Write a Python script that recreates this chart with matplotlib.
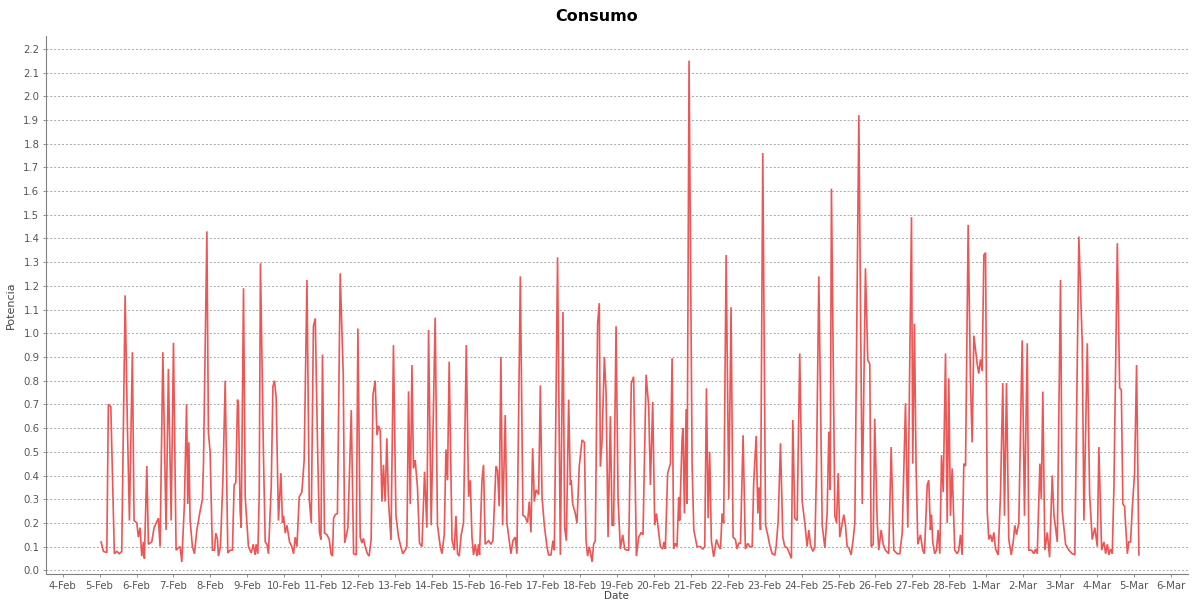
import pandas as pd
import matplotlib
matplotlib.use("Agg")
import matplotlib.pyplot as plt
import matplotlib.dates as mdates
from matplotlib.ticker import FuncFormatter, MultipleLocator

START = pd.Timestamp("2017-02-05 00:00")

# hours after 5-Feb 00:00 and the power reading at that moment
hours = [
    1.0, 2.5, 4.7, 5.7, 7.3, 9.6, 11.2, 12.9, 14.4, 16.6, 18.1, 19.4, 21.3, 22.4,
    24.2, 25.2, 26.3, 27.4, 28.5, 29.1, 30.7, 31.7, 33.9, 35.4, 38.2, 39.3, 41.1,
    43.2, 44.7, 46.5, 48.0, 49.7, 51.2, 52.3, 53.4, 55.1, 56.5, 57.3, 58.0, 58.8,
    60.3, 61.6, 63.2, 65.3, 66.8, 67.5, 69.7, 70.7, 71.8, 73.3, 74.6, 75.5, 76.6,
    77.2, 78.5, 80.1, 81.6, 83.3, 84.8, 86.3, 87.4, 88.5, 89.6, 90.2, 91.3, 92.0,
    93.5, 94.6, 96.7, 98.5, 99.8, 101.1, 101.7, 102.8, 103.7, 104.5, 106.5, 107.6,
    108.7, 109.7, 111.5, 112.6, 113.6, 114.7, 116.2, 117.8, 118.8, 119.5, 120.6,
    121.7, 123.4, 124.9, 126.0, 127.1, 128.2, 129.7, 131.4, 132.9, 134.7, 136.2,
    137.5, 138.9, 140.1, 141.6, 142.8, 143.8, 144.8, 146.1, 147.7, 149.2, 150.3,
    151.3, 152.0, 153.1, 154.5, 156.3, 158.3, 159.2, 161.3, 163.5, 165.0, 166.7,
    167.8, 169.3, 170.4, 171.4, 172.5, 174.0, 175.1, 176.4, 177.6, 179.0, 180.2,
    181.2, 182.3, 183.4, 184.4, 185.5, 186.6, 187.7, 189.3, 190.9, 192.5, 194.2,
    195.7, 197.0, 198.5, 199.6, 200.7, 201.8, 202.9, 203.9, 205.0, 206.5, 207.8,
    209.4, 211.1, 212.6, 213.7, 215.4, 218.0, 219.5, 221.3, 222.4, 223.9, 225.0,
    226.0, 227.1, 228.9, 230.4, 231.5, 232.5, 233.6, 234.9, 236.4, 238.2, 239.7,
    240.8, 241.9, 242.9, 244.0, 245.1, 246.2, 246.8, 248.4, 249.4, 250.5, 252.7,
    254.2, 255.5, 257.5, 258.5, 259.6, 260.7, 261.8, 263.5, 264.6, 266.1, 267.2,
    268.5, 270.0, 271.1, 273.3, 275.0, 276.5, 278.0, 279.1, 280.2, 281.3, 282.4,
    283.5, 285.2, 286.3, 287.4, 288.9, 290.6, 291.7, 293.2, 294.5, 295.4, 297.5,
    299.3, 301.0, 302.1, 303.2, 304.7, 305.8, 306.4, 307.3, 309.0, 310.1, 311.6,
    313.4, 314.9, 316.0, 317.0, 318.1, 319.9, 320.9, 322.0, 323.5, 324.6, 325.3,
    326.4, 327.9, 329.0, 330.3, 331.8, 332.9, 333.9, 335.5, 336.8, 338.3, 339.8,
    341.1, 342.6, 343.7, 345.4, 346.9, 348.7, 350.2, 351.9, 353.0, 355.0, 356.7,
    357.8, 359.3, 360.6, 361.7, 362.8, 364.3, 365.8, 366.6, 367.5, 369.0, 370.8,
    371.9, 372.9, 374.0, 375.1, 376.2, 376.8, 378.4, 379.0, 379.9, 381.0, 381.6,
    382.9, 384.9, 386.0, 388.1, 390.3, 391.8, 393.1, 394.2, 395.3, 396.3, 397.4,
    398.9, 400.7, 402.2, 403.3, 404.4, 405.4, 407.0, 408.7, 410.2, 411.5, 413.0,
    414.1, 415.2, 416.3, 418.0, 419.5, 421.0, 422.3, 423.9, 424.9, 426.5, 427.6,
    428.4, 429.3, 430.8, 432.6, 434.0, 435.3, 436.9, 438.6, 439.5, 440.8, 442.3,
    443.8, 445.1, 446.7, 448.2, 449.4, 450.3, 451.6, 453.1, 454.8, 456.4, 458.1,
    459.6, 460.7, 461.8, 463.3, 464.6, 465.7, 467.2, 469.4, 471.1, 472.6, 473.7,
    474.6, 475.4, 477.6, 478.7, 479.8, 480.8, 481.9, 483.4, 484.5, 485.6, 486.7,
    488.2, 489.5, 490.6, 493.2, 495.4, 497.5, 499.0, 500.3, 501.2, 502.5, 503.5,
    505.1, 506.1, 507.7, 509.0, 510.5, 512.6, 514.2, 515.9, 518.1, 519.8, 521.4,
    523.5, 525.0, 527.4, 528.2, 529.3, 530.4, 531.5, 533.2, 534.7, 535.8, 537.6,
    538.6, 539.7, 540.4, 541.2, 542.5, 543.6, 544.7, 545.8, 546.9, 548.0, 549.5,
    550.6, 551.6, 552.7, 553.8, 555.5, 557.1, 558.1, 559.2, 560.3, 561.4, 562.5,
    564.2, 565.7, 566.8, 567.9, 570.1, 571.1, 572.2, 573.3, 574.4, 575.5, 576.6,
    577.6, 578.7, 579.8, 580.9, 582.0, 583.7, 585.2, 586.7, 587.8, 589.1, 590.6,
    592.2, 593.5, 594.5, 595.6, 597.1, 599.3, 600.8, 602.6, 603.6, 605.4, 606.9,
    608.0, 609.1, 610.8, 611.7, 612.7, 614.0, 615.6, 617.1, 618.8, 619.9, 622.1,
    624.2, 625.3, 627.5, 629.6, 631.8, 633.5, 636.1, 638.3, 639.4, 641.6, 643.1,
    644.8, 646.5, 648.1, 649.1, 650.9, 652.4, 653.5, 654.6, 655.6, 656.7, 657.8,
    658.9, 661.1, 662.6, 663.7, 664.7, 665.8, 667.6, 668.6, 669.7, 670.8, 672.3,
    673.6, 675.1,
]
potencia = [
    0.12, 0.08, 0.075, 0.70, 0.69, 0.07, 0.08, 0.07, 0.08, 1.16, 0.60, 0.21, 0.92, 0.21,
    0.20, 0.14, 0.18, 0.06, 0.12, 0.05, 0.44, 0.11, 0.12, 0.18, 0.22, 0.10, 0.92,
    0.17, 0.85, 0.21, 0.96, 0.085, 0.095, 0.10, 0.035, 0.28, 0.70, 0.28, 0.54, 0.21,
    0.10, 0.07, 0.17, 0.25, 0.30, 0.45, 1.43, 0.58, 0.50, 0.085, 0.085, 0.157, 0.13,
    0.06, 0.10, 0.38, 0.80, 0.073, 0.085, 0.085, 0.36, 0.37, 0.72, 0.70, 0.25, 0.18,
    1.19, 0.31, 0.10, 0.073, 0.11, 0.065, 0.11, 0.07, 0.32, 1.295, 0.47, 0.12,
    0.11, 0.07, 0.35, 0.775, 0.80, 0.73, 0.21, 0.41, 0.20, 0.23, 0.157,
    0.19, 0.12, 0.10, 0.07, 0.14, 0.10, 0.31, 0.33, 0.465, 1.225, 0.30,
    0.20, 1.03, 1.063, 0.52, 0.16, 0.13, 0.91, 0.157, 0.15, 0.13, 0.07,
    0.06, 0.22, 0.235, 0.24, 1.253, 0.82, 0.115, 0.18, 0.676, 0.07, 0.065,
    1.02, 0.14, 0.115, 0.135, 0.10, 0.07, 0.06, 0.13, 0.74, 0.80, 0.57,
    0.61, 0.59, 0.29, 0.445, 0.29, 0.557, 0.29, 0.128, 0.95, 0.23, 0.14,
    0.10, 0.07, 0.085, 0.10, 0.755, 0.28, 0.866, 0.43, 0.465, 0.35, 0.115,
    0.10, 0.416, 0.18, 1.014, 0.19, 1.066, 0.19, 0.10, 0.07, 0.15, 0.51,
    0.38, 0.88, 0.13, 0.085, 0.23, 0.07, 0.06, 0.15, 0.20, 0.95, 0.31,
    0.38, 0.14, 0.065, 0.11, 0.06, 0.11, 0.065, 0.38, 0.445, 0.11, 0.125,
    0.11, 0.125, 0.44, 0.42, 0.27, 0.90, 0.19, 0.655, 0.20, 0.125, 0.07,
    0.125, 0.14, 0.07, 1.24, 0.233, 0.225, 0.20, 0.29, 0.16, 0.515, 0.29,
    0.34, 0.32, 0.78, 0.31, 0.19, 0.10, 0.065, 0.065, 0.125, 0.085, 1.32,
    0.065, 1.09, 0.18, 0.125, 0.72, 0.36, 0.38, 0.28, 0.24, 0.20, 0.44,
    0.55, 0.54, 0.125, 0.06, 0.10, 0.036, 0.11, 0.125, 1.04, 1.127, 0.437,
    0.55, 0.90, 0.75, 0.14, 0.65, 0.19, 0.19, 1.03, 0.30, 0.09, 0.15,
    0.09, 0.085, 0.085, 0.79, 0.817, 0.06, 0.14, 0.16, 0.15, 0.825, 0.69,
    0.36, 0.71, 0.19, 0.24, 0.18, 0.10, 0.09, 0.12, 0.09, 0.41, 0.45,
    0.895, 0.09, 0.114, 0.10, 0.31, 0.21, 0.56, 0.60, 0.24, 0.68, 0.28,
    2.15, 0.44, 0.17, 0.10, 0.10, 0.09, 0.10, 0.768, 0.22, 0.50, 0.125,
    0.057, 0.13, 0.10, 0.09, 0.24, 0.20, 1.33, 0.30, 1.11, 0.14, 0.13,
    0.09, 0.114, 0.114, 0.57, 0.09, 0.114, 0.10, 0.10, 0.37, 0.567, 0.24,
    0.35, 0.17, 1.76, 0.19, 0.15, 0.107, 0.07, 0.065, 0.10, 0.21, 0.536,
    0.14, 0.10, 0.095, 0.07, 0.05, 0.634, 0.22, 0.21, 0.915, 0.29, 0.20,
    0.10, 0.17, 0.107, 0.08, 0.095, 0.43, 1.24, 0.19, 0.095, 0.24, 0.585,
    0.34, 1.61, 0.23, 0.20, 0.41, 0.14, 0.18, 0.235, 0.19, 0.10, 0.095,
    0.065, 0.13, 0.20, 1.92, 0.28, 1.274, 0.887, 0.87, 0.10, 0.11, 0.64,
    0.21, 0.085, 0.17, 0.11, 0.085, 0.07, 0.52, 0.085, 0.07, 0.07, 0.16,
    0.705, 0.18, 1.49, 0.45, 1.04, 0.43, 0.11, 0.15, 0.085, 0.07, 0.36,
    0.38, 0.17, 0.235, 0.12, 0.07, 0.085, 0.17, 0.07, 0.486, 0.33, 0.915,
    0.20, 0.81, 0.23, 0.43, 0.085, 0.07, 0.085, 0.15, 0.065, 0.45, 0.44,
    1.457, 0.80, 0.54, 0.99, 0.87, 0.83, 0.89, 0.84, 1.33, 1.34, 0.25,
    0.13, 0.15, 0.12, 0.16, 0.09, 0.065, 0.32, 0.79, 0.23, 0.79, 0.13,
    0.065, 0.12, 0.19, 0.15, 0.20, 0.97, 0.23, 0.958, 0.085, 0.085, 0.07,
    0.09, 0.07, 0.45, 0.30, 0.754, 0.085, 0.16, 0.055, 0.40, 0.235, 0.12,
    1.225, 0.25, 0.11, 0.085, 0.07, 0.065, 1.408, 0.96, 0.21, 0.958, 0.32,
    0.13, 0.18, 0.10, 0.52, 0.085, 0.12, 0.07, 0.11, 0.065, 0.09, 0.07,
    0.35, 1.38, 0.77, 0.76, 0.28, 0.27, 0.07, 0.12, 0.12, 0.26, 0.41,
    0.866, 0.065,
]

times = START + pd.to_timedelta(hours, unit="h")

GRAY = "#808080"
TXT = "#555555"

fig = plt.figure(figsize=(11.93, 6.01), dpi=100)
ax = fig.add_axes([0.0383, 0.0443, 0.9575, 0.8958])

ax.plot(times, potencia, color="#ee5555", lw=1.2, solid_joinstyle="miter")

ax.set_xlim(START - pd.Timedelta(hours=35), START + pd.Timedelta(hours=707))
ax.set_ylim(-0.017, 2.254)

ax.yaxis.set_major_locator(MultipleLocator(0.1))
ax.yaxis.set_major_formatter(FuncFormatter(lambda v, _: f"{v:.1f}"))
ax.xaxis.set_major_locator(mdates.DayLocator())
ax.xaxis.set_major_formatter(FuncFormatter(
    lambda v, _: (lambda d: f"{d.day}-{d.strftime('%b')}")(mdates.num2date(v))))

ax.grid(axis="y", color="#a8a8a8", linestyle=(0, (2, 2)), lw=0.7)
ax.set_axisbelow(True)
for side in ("top", "right"):
    ax.spines[side].set_visible(False)
for side in ("left", "bottom"):
    ax.spines[side].set_color(GRAY)
    ax.spines[side].set_linewidth(0.8)

ax.tick_params(axis="both", colors=GRAY, labelcolor=TXT, labelsize=7.3,
               length=2.5, width=0.6, pad=2)

ax.set_xlabel("Date", fontsize=7.5, color="#444444")
ax.xaxis.set_label_coords(0.5, -0.041)
ax.xaxis.label.set_va("center")
ax.set_ylabel("Potencia", fontsize=8, color="#444444", labelpad=5)
fig.suptitle("Consumo", x=0.5, y=0.985, fontsize=11.5, fontweight="bold")

fig.savefig("out.png", dpi=100)
